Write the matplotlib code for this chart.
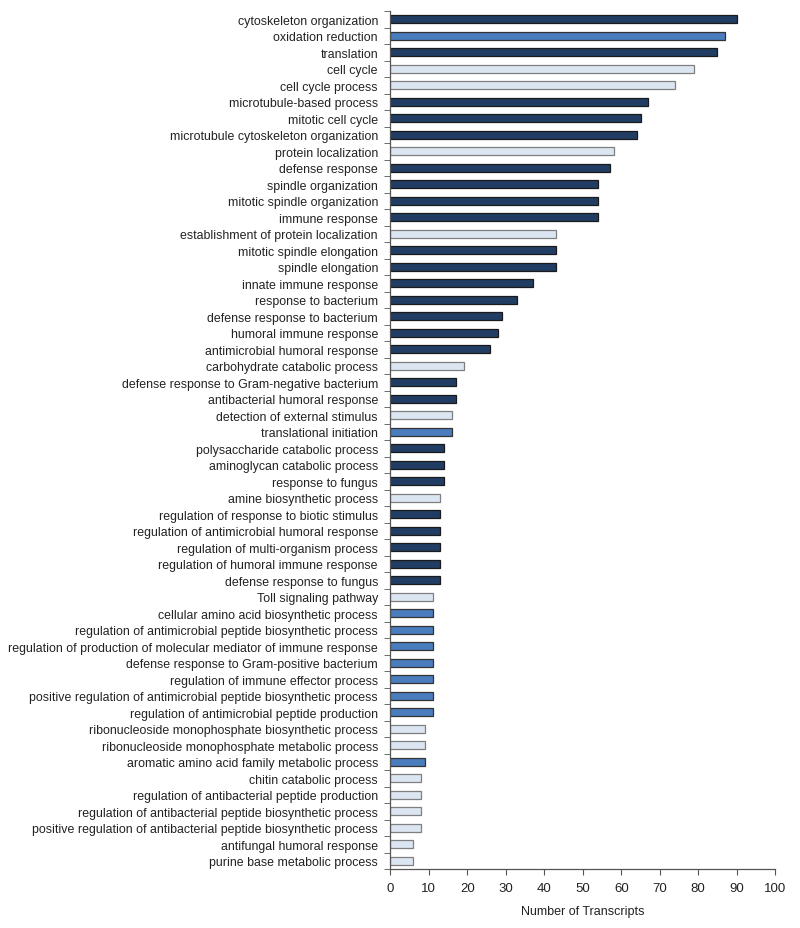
import numpy as np
import matplotlib.pyplot as plt

plt.rcParams['font.family'] = ['Liberation Sans', 'DejaVu Sans']

categories = [
    "cytoskeleton organization", "oxidation reduction", "translation", "cell cycle",
    "cell cycle process", "microtubule-based process", "mitotic cell cycle",
    "microtubule cytoskeleton organization", "protein localization", "defense response",
    "spindle organization", "mitotic spindle organization", "immune response",
    "establishment of protein localization", "mitotic spindle elongation",
    "spindle elongation", "innate immune response", "response to bacterium",
    "defense response to bacterium", "humoral immune response",
    "antimicrobial humoral response", "carbohydrate catabolic process",
    "defense response to Gram-negative bacterium", "antibacterial humoral response",
    "detection of external stimulus", "translational initiation",
    "polysaccharide catabolic process", "aminoglycan catabolic process",
    "response to fungus", "amine biosynthetic process",
    "regulation of response to biotic stimulus",
    "regulation of antimicrobial humoral response",
    "regulation of multi-organism process", "regulation of humoral immune response",
    "defense response to fungus", "Toll signaling pathway",
    "cellular amino acid biosynthetic process",
    "regulation of antimicrobial peptide biosynthetic process",
    "regulation of production of molecular mediator of immune response",
    "defense response to Gram-positive bacterium",
    "regulation of immune effector process",
    "positive regulation of antimicrobial peptide biosynthetic process",
    "regulation of antimicrobial peptide production",
    "ribonucleoside monophosphate biosynthetic process",
    "ribonucleoside monophosphate metabolic process",
    "aromatic amino acid family metabolic process", "chitin catabolic process",
    "regulation of antibacterial peptide production",
    "regulation of antibacterial peptide biosynthetic process",
    "positive regulation of antibacterial peptide biosynthetic process",
    "antifungal humoral response", "purine base metabolic process",
]

counts = [90, 87, 85, 79, 74, 67, 65, 64, 58, 57, 54, 54, 54, 43, 43, 43, 37, 33,
          29, 28, 26, 19, 17, 17, 16, 16, 14, 14, 14, 13, 13, 13, 13, 13, 13, 11,
          11, 11, 11, 11, 11, 11, 11, 9, 9, 9, 8, 8, 8, 8, 6, 6]

# d = dark navy, m = medium blue, l = light
groups = (['d', 'm', 'd', 'l', 'l', 'd', 'd', 'd', 'l', 'd', 'd', 'd', 'd']
          + ['l'] + ['d'] * 7
          + ['l', 'd', 'd', 'l', 'm']
          + ['d'] * 3 + ['l'] + ['d'] * 5
          + ['l'] + ['m'] * 7
          + ['l', 'l', 'm'] + ['l'] * 6)

colors = {'d': '#223D63', 'm': '#4A7DBE', 'l': '#DCE6F2'}
edges = {'d': '#1a1a1a', 'm': '#333333', 'l': '#7f7f7f'}

fig = plt.figure(figsize=(8, 9.29), dpi=100)
ax = fig.add_axes([0.488, 0.0635, 0.481, 0.9235])

y = np.arange(len(categories))
ax.barh(y, counts, height=0.5,
        color=[colors[g] for g in groups],
        edgecolor=[edges[g] for g in groups], linewidth=0.9)

ax.set_ylim(len(categories) - 0.5, -0.5)
ax.set_xlim(0, 100)
ax.set_xticks(np.arange(0, 101, 10))
ax.set_yticks(y)
ax.set_yticklabels(categories, fontsize=8.95, color='#222222')
ax.set_yticks(np.arange(-0.5, len(categories)), minor=True)
ax.tick_params(axis='y', which='major', length=0, pad=9)
ax.tick_params(axis='y', which='minor', length=4, direction='out', color='#555555')
ax.tick_params(axis='x', length=4, direction='out', color='#555555',
               labelsize=9.5, labelcolor='#222222', pad=5)

for s in ['top', 'right']:
    ax.spines[s].set_visible(False)
for s in ['left', 'bottom']:
    ax.spines[s].set_color('#555555')
    ax.spines[s].set_linewidth(0.9)

ax.set_xlabel('Number of Transcripts', fontsize=9, color='#222222', labelpad=8)

fig.savefig('out.png', dpi=100)
